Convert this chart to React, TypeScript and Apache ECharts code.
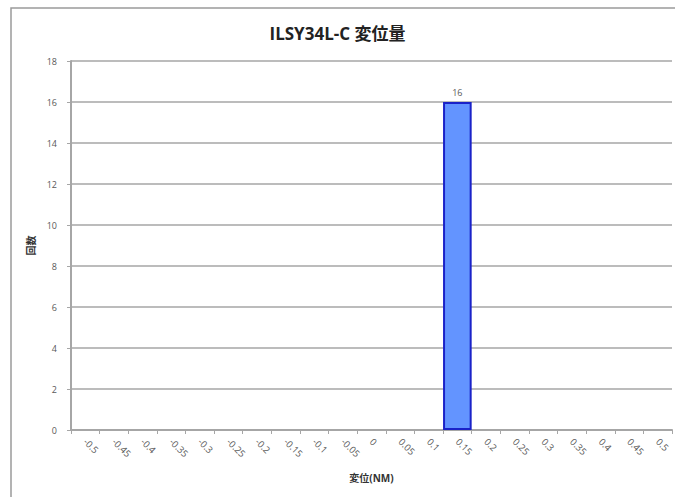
import React, { useEffect, useRef } from "react";
import * as echarts from "echarts";

// Displacement buckets (NM) and occurrence counts
const categories = [
  "-0.5", "-0.45", "-0.4", "-0.35", "-0.3", "-0.25", "-0.2", "-0.15", "-0.1", "-0.05",
  "0", "0.05", "0.1", "0.15", "0.2", "0.25", "0.3", "0.35", "0.4", "0.45", "0.5",
];
const counts = [0, 0, 0, 0, 0, 0, 0, 0, 0, 0, 0, 0, 0, 16, 0, 0, 0, 0, 0, 0, 0];

const titleText = "ILSY34L-C 変位量";
const xName = "変位(NM)";
const yName = "回数";

const FONT = "'Open Sans', 'Noto Sans CJK JP', sans-serif";

export default function App() {
  const ref = useRef<HTMLDivElement>(null);

  useEffect(() => {
    if (!ref.current) return;
    const chart = echarts.init(ref.current, undefined, { renderer: "svg" });
    chart.setOption({
      animation: false,
      backgroundColor: "#ffffff",
      title: {
        text: titleText,
        left: "center",
        top: 20,
        textStyle: {
          fontFamily: FONT,
          fontSize: 17,
          fontWeight: "bold",
          color: "#222222",
        },
      },
      graphic: [
        {
          type: "rect",
          shape: { x: 11, y: 8, width: 700, height: 520 },
          style: { fill: "none", stroke: "#9a9a9a", lineWidth: 1.5 },
          silent: true,
        },
      ],
      grid: { left: 71, right: 3, top: 61, bottom: 67 },
      xAxis: {
        type: "category",
        data: categories,
        name: xName,
        nameLocation: "middle",
        nameGap: 43,
        nameTextStyle: { fontFamily: FONT, fontSize: 10, color: "#333333", fontWeight: "bold" },
        axisLine: { show: true, lineStyle: { color: "#a6a6a6", width: 2 } },
        axisTick: { show: true, alignWithLabel: false, length: 4, lineStyle: { color: "#a6a6a6" } },
        axisLabel: {
          rotate: -45,
          interval: 0,
          fontFamily: FONT,
          fontSize: 9.5,
          color: "#595959",
          margin: 10,
        },
      },
      yAxis: {
        type: "value",
        min: 0,
        max: 18,
        interval: 2,
        name: yName,
        nameLocation: "middle",
        nameRotate: 90,
        nameGap: 32,
        nameTextStyle: { fontFamily: FONT, fontSize: 10, color: "#333333", fontWeight: "bold" },
        axisLine: { show: true, lineStyle: { color: "#a6a6a6", width: 2 } },
        axisTick: { show: true, length: 4, lineStyle: { color: "#a6a6a6" } },
        axisLabel: { fontFamily: FONT, fontSize: 9, color: "#595959", margin: 14 },
        splitLine: { show: true, lineStyle: { color: "#a6a6a6", width: 1.5 } },
      },
      series: [
        {
          type: "bar",
          data: counts.map((v) => ({
            value: v,
            label: { show: v > 0 },
            itemStyle: v > 0 ? {} : { borderWidth: 0 },
          })),
          barCategoryGap: 0,
          itemStyle: { color: "#6394ff", borderColor: "#1a22c8", borderWidth: 2 },
          label: {
            position: "top",
            distance: 5,
            fontFamily: FONT,
            fontSize: 9,
            color: "#595959",
          },
        },
      ],
    });
    return () => chart.dispose();
  }, []);

  return (
    <div
      ref={ref}
      style={{ position: "fixed", left: 0, top: 0, width: 675, height: 497 }}
    />
  );
}
